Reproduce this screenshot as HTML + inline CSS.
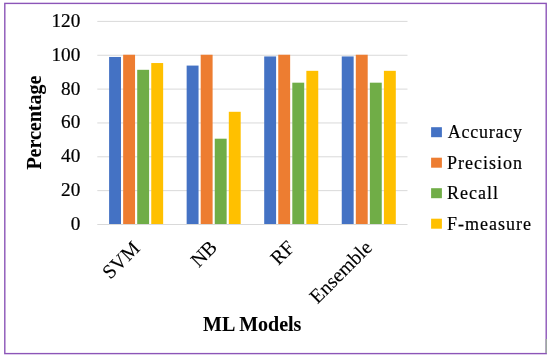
<!DOCTYPE html><html><head><meta charset="utf-8"><style>html,body{margin:0;padding:0;background:#fff;overflow:hidden;width:550px;height:358px;}svg{display:block;will-change:transform;}text{font-family:"Liberation Serif",serif;fill:#000;stroke:#000;stroke-width:0.2px;}text.b{stroke-width:0.1px;}text.x{stroke-width:0.1px;}</style></head><body>
<svg width="550" height="358" viewBox="0 0 550 358">
<rect x="0" y="0" width="550" height="358" fill="#fff"/>
<line x1="97.3" y1="21.40" x2="407.5" y2="21.40" stroke="#d9d9d9" stroke-width="1"/>
<line x1="97.3" y1="55.25" x2="407.5" y2="55.25" stroke="#d9d9d9" stroke-width="1"/>
<line x1="97.3" y1="89.10" x2="407.5" y2="89.10" stroke="#d9d9d9" stroke-width="1"/>
<line x1="97.3" y1="122.95" x2="407.5" y2="122.95" stroke="#d9d9d9" stroke-width="1"/>
<line x1="97.3" y1="156.80" x2="407.5" y2="156.80" stroke="#d9d9d9" stroke-width="1"/>
<line x1="97.3" y1="190.65" x2="407.5" y2="190.65" stroke="#d9d9d9" stroke-width="1"/>
<line x1="97.3" y1="224.50" x2="407.5" y2="224.50" stroke="#d9d9d9" stroke-width="1"/>
<rect x="109.10" y="56.95" width="11.9" height="167.05" fill="#4472C4"/>
<rect x="123.15" y="54.75" width="11.9" height="169.25" fill="#ED7D31"/>
<rect x="137.20" y="69.81" width="11.9" height="154.19" fill="#70AD47"/>
<rect x="151.25" y="63.04" width="11.9" height="160.96" fill="#FFC000"/>
<rect x="186.65" y="65.58" width="11.9" height="158.42" fill="#4472C4"/>
<rect x="200.70" y="54.75" width="11.9" height="169.25" fill="#ED7D31"/>
<rect x="214.75" y="138.70" width="11.9" height="85.30" fill="#70AD47"/>
<rect x="228.80" y="111.79" width="11.9" height="112.21" fill="#FFC000"/>
<rect x="264.20" y="56.44" width="11.9" height="167.56" fill="#4472C4"/>
<rect x="278.25" y="54.75" width="11.9" height="169.25" fill="#ED7D31"/>
<rect x="292.30" y="82.68" width="11.9" height="141.32" fill="#70AD47"/>
<rect x="306.35" y="70.83" width="11.9" height="153.17" fill="#FFC000"/>
<rect x="341.75" y="56.44" width="11.9" height="167.56" fill="#4472C4"/>
<rect x="355.80" y="54.75" width="11.9" height="169.25" fill="#ED7D31"/>
<rect x="369.85" y="82.68" width="11.9" height="141.32" fill="#70AD47"/>
<rect x="383.90" y="70.83" width="11.9" height="153.17" fill="#FFC000"/>
<text transform="translate(80.3,27.00) scale(1.05,1)" font-size="18.3" text-anchor="end">120</text>
<text transform="translate(80.3,60.75) scale(1.05,1)" font-size="18.3" text-anchor="end">100</text>
<text transform="translate(80.3,94.50) scale(1.05,1)" font-size="18.3" text-anchor="end">80</text>
<text transform="translate(80.3,128.25) scale(1.05,1)" font-size="18.3" text-anchor="end">60</text>
<text transform="translate(80.3,162.00) scale(1.05,1)" font-size="18.3" text-anchor="end">40</text>
<text transform="translate(80.3,195.75) scale(1.05,1)" font-size="18.3" text-anchor="end">20</text>
<text transform="translate(80.3,229.50) scale(1.05,1)" font-size="18.3" text-anchor="end">0</text>
<text transform="translate(40.9,122.6) rotate(-90)" font-size="20" font-weight="bold" class="b" text-anchor="middle">Percentage</text>
<text transform="translate(130.775,239.2) rotate(-45)" class="x" font-size="20" text-anchor="end" dominant-baseline="hanging">SVM</text>
<text transform="translate(208.125,238.4) rotate(-45)" class="x" font-size="20" text-anchor="end" dominant-baseline="hanging">NB</text>
<text transform="translate(285.575,238.6) rotate(-45)" class="x" font-size="20" text-anchor="end" dominant-baseline="hanging">RF</text>
<text transform="translate(363.125,238.6) rotate(-45)" class="x" font-size="20" text-anchor="end" dominant-baseline="hanging">Ensemble</text>
<text x="252.2" y="330.5" font-size="20" font-weight="bold" class="b" text-anchor="middle">ML Models</text>
<rect x="431.1" y="127.20" width="10.8" height="10" fill="#4472C4"/>
<text x="447.8" y="138.30" font-size="18" letter-spacing="0.75">Accuracy</text>
<rect x="431.1" y="157.70" width="10.8" height="10" fill="#ED7D31"/>
<text x="447" y="168.80" font-size="18" letter-spacing="1.0">Precision</text>
<rect x="431.1" y="188.20" width="10.8" height="10" fill="#70AD47"/>
<text x="447" y="199.30" font-size="18" letter-spacing="1.0">Recall</text>
<rect x="431.1" y="218.70" width="10.8" height="10" fill="#FFC000"/>
<text x="447" y="229.80" font-size="18" letter-spacing="1.0">F-measure</text>
<rect x="4.8" y="3.4" width="541.4" height="350.2" fill="none" stroke="#8c55b8" stroke-width="1.4"/>
<line x1="546.2" y1="339" x2="546.2" y2="353" stroke="#a0b0a0" stroke-width="1.4"/>
</svg></body></html>
